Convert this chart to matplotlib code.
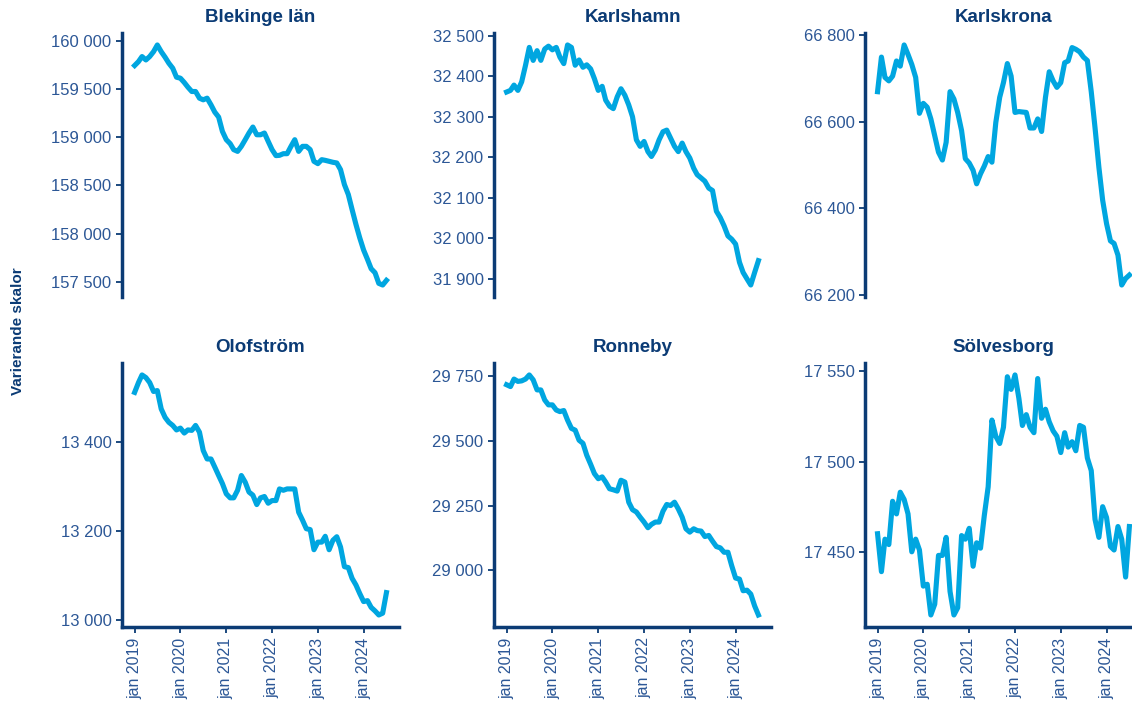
import matplotlib
matplotlib.use("Agg")
import matplotlib.pyplot as plt
import matplotlib.ticker as mticker
import pandas as pd

plt.rcParams['font.family'] = ['Liberation Sans', 'DejaVu Sans']

# monthly values jan 2019 - jul 2024
months = pd.date_range("2019-01-01", periods=67, freq="MS")

blekinge = [159742, 159783, 159835, 159800, 159835, 159886, 159955, 159886, 159828, 159766,
            159714, 159621, 159611, 159566, 159518, 159473, 159473, 159404, 159387, 159404,
            159335, 159260, 159208, 159060, 158974, 158933, 158871, 158853, 158905, 158974,
            159043, 159105, 159025, 159025, 159043, 158957, 158871, 158809, 158812, 158829,
            158829, 158905, 158974, 158853, 158905, 158905, 158871, 158750, 158726, 158767,
            158760, 158750, 158740, 158733, 158664, 158509, 158406, 158251, 158096, 157958,
            157831, 157734, 157638, 157596, 157486, 157469, 157517]

karlshamn = [32361, 32365, 32378, 32365, 32386, 32427, 32471, 32439, 32463, 32439,
             32467, 32474, 32465, 32471, 32447, 32431, 32477, 32471, 32427, 32440,
             32422, 32428, 32418, 32394, 32365, 32375, 32341, 32326, 32320, 32349,
             32369, 32353, 32329, 32300, 32243, 32227, 32239, 32214, 32202, 32218,
             32243, 32263, 32267, 32247, 32227, 32214, 32235, 32214, 32198, 32173,
             32157, 32149, 32141, 32124, 32118, 32067, 32051, 32031, 32006, 31998,
             31986, 31941, 31916, 31900, 31885, 31916, 31945]

karlskrona = [66670, 66750, 66703, 66695, 66706, 66741, 66729, 66778, 66756, 66733,
              66703, 66620, 66643, 66634, 66607, 66568, 66530, 66512, 66553, 66670,
              66653, 66622, 66580, 66515, 66505, 66488, 66457, 66480, 66498, 66520,
              66507, 66599, 66657, 66691, 66735, 66706, 66622, 66624, 66623, 66622,
              66586, 66586, 66607, 66578, 66657, 66716, 66695, 66680, 66691, 66737,
              66741, 66772, 66768, 66762, 66750, 66742, 66670, 66587, 66495, 66419,
              66365, 66325, 66319, 66292, 66223, 66238, 66246]

olofstrom = [13510, 13532, 13549, 13543, 13532, 13512, 13514, 13473, 13454, 13443,
             13436, 13426, 13430, 13419, 13426, 13425, 13436, 13421, 13380, 13361,
             13361, 13343, 13324, 13306, 13283, 13274, 13274, 13291, 13324, 13309,
             13287, 13280, 13259, 13274, 13277, 13262, 13268, 13268, 13294, 13291,
             13294, 13294, 13294, 13242, 13224, 13205, 13203, 13158, 13175, 13175,
             13188, 13158, 13179, 13187, 13164, 13120, 13118, 13094, 13079, 13060,
             13042, 13044, 13029, 13021, 13012, 13016, 13062]

ronneby = [29718, 29711, 29740, 29731, 29733, 29740, 29756, 29737, 29698, 29698,
           29659, 29640, 29640, 29620, 29614, 29618, 29581, 29549, 29542, 29503,
           29491, 29445, 29410, 29374, 29354, 29361, 29341, 29315, 29311, 29306,
           29348, 29341, 29263, 29234, 29225, 29205, 29186, 29164, 29177, 29186,
           29186, 29228, 29254, 29250, 29263, 29237, 29205, 29160, 29147, 29160,
           29153, 29151, 29130, 29134, 29112, 29091, 29086, 29069, 29069, 29017,
           28969, 28965, 28920, 28922, 28907, 28861, 28826]

solvesborg = [17460, 17439, 17457, 17454, 17478, 17471, 17483, 17479, 17471, 17450,
              17457, 17451, 17431, 17432, 17415, 17421, 17448, 17448, 17458, 17428,
              17415, 17419, 17459, 17457, 17463, 17442, 17455, 17452, 17470, 17486,
              17523, 17514, 17510, 17519, 17547, 17540, 17548, 17535, 17520, 17526,
              17519, 17516, 17546, 17524, 17529, 17522, 17517, 17514, 17505, 17516,
              17508, 17511, 17506, 17520, 17519, 17502, 17495, 17468, 17458, 17475,
              17469, 17453, 17451, 17464, 17457, 17436, 17464]

titles = ["Blekinge län", "Karlshamn", "Karlskrona", "Olofström", "Ronneby", "Sölvesborg"]
series = [blekinge, karlshamn, karlskrona, olofstrom, ronneby, solvesborg]
yticks = [
    [157500, 158000, 158500, 159000, 159500, 160000],
    [31900, 32000, 32100, 32200, 32300, 32400, 32500],
    [66200, 66400, 66600, 66800],
    [13000, 13200, 13400],
    [29000, 29250, 29500, 29750],
    [17450, 17500, 17550],
]
xtick_dates = pd.date_range("2019-01-01", periods=6, freq="YS")
xtick_labels = ["jan 2019", "jan 2020", "jan 2021", "jan 2022", "jan 2023", "jan 2024"]

line_color = "#00A6E0"
navy = "#0B3B75"
tick_color = "#2C5796"

fig = plt.figure(figsize=(11.32, 7.09), dpi=100)
lefts = [0.1078, 0.4364, 0.7641]
bottoms = [0.5811, 0.1157]
w, h = 0.2447, 0.3724

def space_fmt(v, pos):
    return f"{v:,.0f}".replace(",", " ")

for i, (title, vals) in enumerate(zip(titles, series)):
    row, col = divmod(i, 3)
    ax = fig.add_axes([lefts[col], bottoms[row], w, h])
    ax.plot(months, vals, color=line_color, lw=3.7, solid_joinstyle="round")
    ax.set_title(title, fontsize=13.5, fontweight="bold", color=navy, pad=8)
    ax.set_yticks(yticks[i])
    ax.yaxis.set_major_formatter(mticker.FuncFormatter(space_fmt))
    ax.set_xticks(xtick_dates)
    for s in ["top", "right"]:
        ax.spines[s].set_visible(False)
    for s in ["left", "bottom"]:
        ax.spines[s].set_color(navy)
        ax.spines[s].set_linewidth(2.5)
    ax.tick_params(axis="both", colors=navy, width=1.3, length=4,
                   labelsize=12, labelcolor=tick_color)
    if row == 0:
        ax.spines["bottom"].set_visible(False)
        ax.tick_params(axis="x", bottom=False, labelbottom=False)
    else:
        ax.set_xticklabels(xtick_labels, rotation=90, fontsize=11.5)

fig.text(18 / 1132, 1 - 331 / 709, "Varierande skalor", rotation=90, ha="center", va="center",
         fontsize=11, fontweight="bold", color=navy)

fig.savefig("out.png", dpi=100)
